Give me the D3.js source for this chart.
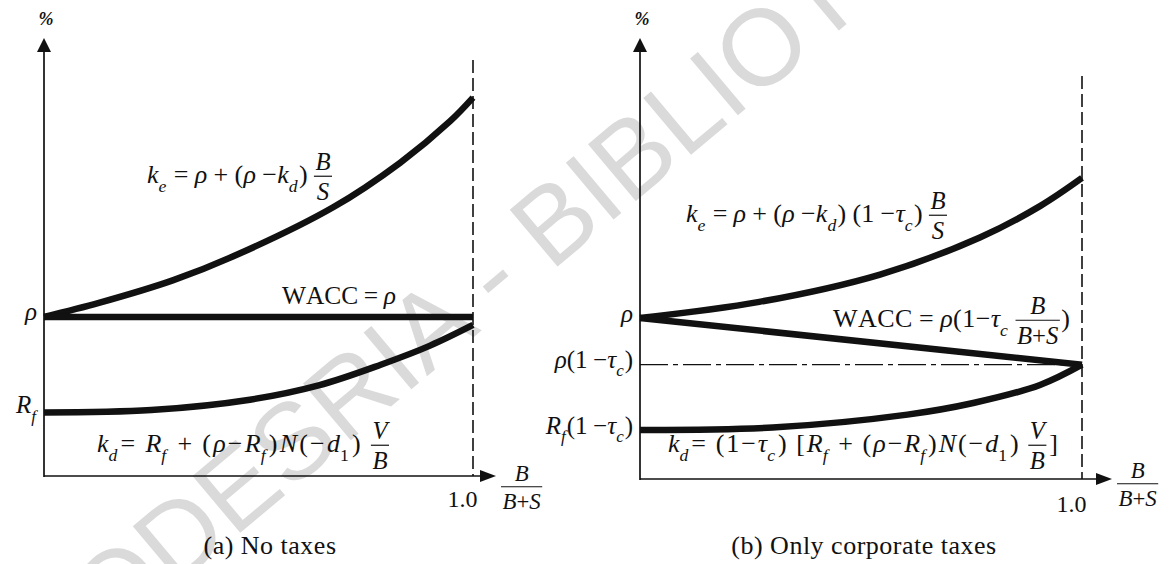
<!DOCTYPE html>
<html>
<head>
<meta charset="utf-8">
<script src="https://cdn.jsdelivr.net/npm/d3@7"></script>
<style>
  html, body { margin: 0; padding: 0; background: #fff; }
  svg { display: block; }
  text { font-family: "Liberation Serif", "Times New Roman", serif; fill: #111; white-space: pre; }
  .wm { font-family: "Liberation Sans", Arial, sans-serif; fill: #dadada; }
</style>
</head>
<body>
<svg id="chart" width="1174" height="564"></svg>
<script>
// ---- Costs of capital (%) against leverage B/(B+S) ----
const rho = 10;                 // unlevered cost of equity
const rf = 4.0;                 // risk-free rate

// (a) No taxes
const keA_x   = [0, 0.13, 0.30, 0.44, 0.674, 0.83, 0.946, 1];
const keA_y   = [10, 10.9, 12.3, 13.8, 16.9, 19.7, 22.3, 23.8];
const waccA_x = [0, 1];
const waccA_y = [10, 10];
const kdA_x   = [0, 0.25, 0.48, 0.64, 0.785, 0.9, 1];
const kdA_y   = [4.0, 4.15, 4.8, 5.7, 7.0, 8.2, 9.5];

// (b) Only corporate taxes
const rhoAfterTax = 7.1;        // rho(1 - tau_c)
const rfAfterTax  = 3.05;       // Rf(1 - tau_c)
const keB_x   = [0, 0.27, 0.543, 0.769, 0.905, 1];
const keB_y   = [10, 11.0, 12.7, 15.0, 16.95, 18.7];
const waccB_x = [0, 1];
const waccB_y = [10, 7.1];
const kdB_x   = [0, 0.3, 0.605, 0.754, 0.905, 1];
const kdB_y   = [3.05, 3.2, 4.0, 4.72, 5.84, 7.1];

const xTicks = [1];
const xTickLabels = ["1.0"];

const svg = d3.select("#chart");
const FS = 24;
const INK = "#111";

// ---- background watermark ----
svg.append("text")
  .attr("class", "wm")
  .attr("font-size", 108)
  .attr("text-anchor", "middle")
  .attr("transform", "translate(606,226) rotate(-40)")
  .text("CODESRIA - BIBLIOTHEQUE");

// ---- small math typesetter: italic symbols, _x subscripts, {a/b} fractions, ^..^ upright ----
function parseMath(s) {
  const out = [];
  let upright = false;
  for (let i = 0; i < s.length; i++) {
    const c = s[i];
    if (c === "^") { upright = !upright; continue; }
    if (c === " ") { out.push({ space: true }); continue; }
    if (c === "_") {
      const n = s[++i];
      out.push({ t: n, sub: true, it: /[A-Za-zρτ]/.test(n) });
      continue;
    }
    if (c === "{") {
      const j = s.indexOf("}", i);
      const [n, d] = s.slice(i + 1, j).split("/");
      out.push({ frac: [n, d] });
      i = j;
      continue;
    }
    const it = !upright && /[A-Za-zρτ]/.test(c);
    out.push({ t: c, it });
  }
  return out;
}

// lays out the runs; `gap` is extra room added after every glyph group
function drawMath(g, x, y, s, fs, gap) {
  gap = gap || 0;
  let cx = x;
  const runs = parseMath(s);
  runs.forEach((r, k) => {
    const nextSub = runs[k + 1] && runs[k + 1].sub;
    if (r.space) {
      cx += fs * 0.22 + gap;
    } else if (r.frac) {
      const f2 = fs * 0.95;
      const num = g.append("g"), den = g.append("g");
      const nw = drawMath(num, 0, 0, r.frac[0], f2, 0);
      const dw = drawMath(den, 0, 0, r.frac[1], f2, 0);
      const w = Math.max(nw, dw) + 3;
      num.attr("transform", `translate(${cx + (w - nw) / 2},${y - fs * 0.5})`);
      den.attr("transform", `translate(${cx + (w - dw) / 2},${y + fs * 0.66})`);
      g.append("line")
        .attr("x1", cx).attr("x2", cx + w)
        .attr("y1", y - fs * 0.26).attr("y2", y - fs * 0.26)
        .attr("stroke", INK).attr("stroke-width", 1.2);
      cx += w + 1 + gap;
    } else {
      const t = g.append("text")
        .attr("x", cx)
        .attr("y", r.sub ? y + fs * 0.33 : y)
        .attr("font-size", r.sub ? fs * 0.68 : fs)
        .attr("font-style", r.it ? "italic" : "normal")
        .text(r.t);
      cx += t.node().getComputedTextLength() + (r.sub ? 1 : 0) + (nextSub ? 0 : gap);
    }
  });
  return cx - x - (runs.length && !runs[runs.length - 1].sub ? gap : 0);
}

// place a formula; with a width the type grows a little and the rest is spread evenly
function mathLabel(x, y, s, fs, anchor, width) {
  const g = svg.append("g");
  let w = drawMath(g, 0, 0, s, fs, 0);
  if (width) {
    const size = Math.min(26, fs * width / w);
    g.selectAll("*").remove();
    w = drawMath(g, 0, 0, s, size, 0);
    const runs = parseMath(s);
    const slots = runs.filter((r, k) => !(runs[k + 1] && runs[k + 1].sub)).length - 1;
    const gap = slots > 0 ? (width - w) / slots : 0;
    g.selectAll("*").remove();
    w = drawMath(g, 0, 0, s, size, gap);
  }
  const dx = anchor === "end" ? x - w : anchor === "middle" ? x - w / 2 : x;
  g.attr("transform", `translate(${dx},${y})`);
  return g;
}

// ---- one panel ----
function drawPanel(cfg) {
  const x = d3.scaleLinear().domain([0, 1]).range([cfg.left, cfg.right]);
  const y = d3.scaleLinear().domain([0, rho]).range([cfg.base, cfg.rhoY]);
  const g = svg.append("g");

  // x axis: "1.0" from the axis generator, line and arrow drawn separately
  const ax = d3.axisBottom(x)
    .tickValues(xTicks)
    .tickFormat((d, i) => xTickLabels[i])
    .tickSize(0)
    .tickPadding(0);
  const axG = g.append("g").attr("transform", `translate(0,${cfg.base})`).call(ax);
  axG.select(".domain").remove();
  axG.attr("font-family", null).attr("font-size", null);
  axG.selectAll(".tick text")
    .attr("font-size", FS)
    .attr("fill", INK)
    .attr("text-anchor", "end")
    .attr("dx", 4)
    .attr("dy", null)
    .attr("y", cfg.tickY);

  g.append("line")
    .attr("x1", cfg.left).attr("x2", cfg.arrowX - 14)
    .attr("y1", cfg.base).attr("y2", cfg.base)
    .attr("stroke", INK).attr("stroke-width", 1.7);
  g.append("path")
    .attr("d", `M${cfg.arrowX},${cfg.base} L${cfg.arrowX - 16},${cfg.base - 6} L${cfg.arrowX - 16},${cfg.base + 6} Z`)
    .attr("fill", INK);

  // y axis with arrow
  g.append("line")
    .attr("x1", cfg.left).attr("x2", cfg.left)
    .attr("y1", cfg.base + 1).attr("y2", cfg.top + 12)
    .attr("stroke", INK).attr("stroke-width", 1.7);
  g.append("path")
    .attr("d", `M${cfg.left},${cfg.top} L${cfg.left - 7},${cfg.top + 14} L${cfg.left + 7},${cfg.top + 14} Z`)
    .attr("fill", INK);
  g.append("text")
    .attr("x", cfg.left + 2).attr("y", cfg.top - 13)
    .attr("text-anchor", "middle")
    .attr("font-size", 18).attr("font-weight", "bold").attr("font-style", "italic")
    .text("%");

  // dashed limit at B/(B+S) = 1
  g.append("line")
    .attr("x1", x(1)).attr("x2", x(1))
    .attr("y1", cfg.dashTop).attr("y2", cfg.base)
    .attr("stroke", INK).attr("stroke-width", 1.6)
    .attr("stroke-dasharray", "13,5");

  // optional dash-dot reference level
  if (cfg.refLevel !== undefined) {
    g.append("line")
      .attr("x1", x(0)).attr("x2", x(1) - 4)
      .attr("y1", y(cfg.refLevel)).attr("y2", y(cfg.refLevel))
      .attr("stroke", INK).attr("stroke-width", 1.2)
      .attr("stroke-dasharray", "28,5,5,5");
  }

  // cost curves
  const line = d3.line()
    .x(d => x(d[0]))
    .y(d => y(d[1]))
    .curve(d3.curveCatmullRom.alpha(0.5));
  cfg.series.forEach(s => {
    g.append("path")
      .datum(d3.zip(s.x, s.y))
      .attr("d", line)
      .attr("fill", "none")
      .attr("stroke", INK)
      .attr("stroke-width", 6.5)
      .attr("stroke-linecap", "butt");
  });

  // level labels beside the y axis
  cfg.levels.forEach(l => mathLabel(cfg.left - 7, y(l.v) + l.dy, l.s, 25, "end"));

  // x-axis variable
  mathLabel(cfg.arrowX + 5, cfg.base + cfg.fracDy, "{B/B+S}", FS, "start");

  return { x, y };
}

drawPanel({
  left: 44, right: 473, base: 476, rhoY: 317, top: 38, dashTop: 60, arrowX: 496,
  tickY: 31, fracDy: 17,
  series: [
    { x: keA_x, y: keA_y },
    { x: waccA_x, y: waccA_y },
    { x: kdA_x, y: kdA_y }
  ],
  levels: [
    { v: rho, s: "ρ", dy: 3 },
    { v: rf, s: "R_f", dy: 1 }
  ]
});

drawPanel({
  left: 640, right: 1082, base: 479, rhoY: 318, top: 38, dashTop: 76, arrowX: 1112,
  tickY: 33, fracDy: 11,
  refLevel: rhoAfterTax,
  series: [
    { x: keB_x, y: keB_y },
    { x: waccB_x, y: waccB_y },
    { x: kdB_x, y: kdB_y }
  ],
  levels: [
    { v: rho, s: "ρ", dy: 4 },
    { v: rhoAfterTax, s: "ρ(1 −τ_c)", dy: 3 },
    { v: rfAfterTax, s: "R_f(1 −τ_c)", dy: 4 }
  ]
});

// curve formulas
mathLabel(147, 183, "k_e = ρ + (ρ −k_d) {B/S}", FS, "start", 186);
mathLabel(282, 304, "^WACC^ = ρ", FS, "start", 114);
mathLabel(97, 452, "k_d= R_f + (ρ−R_f)N(−d_1) {V/B}", FS, "start", 293);

mathLabel(686, 222, "k_e = ρ + (ρ −k_d) (1 −τ_c) {B/S}", FS, "start", 262);
mathLabel(833, 327, "^WACC^ = ρ(1−τ_c {B/B+S})", FS, "start", 237);
mathLabel(668, 452, "k_d= (1−τ_c) [R_f + (ρ−R_f)N(−d_1) {V/B}]", FS, "start", 390);

// panel captions
svg.append("text")
  .attr("x", 270).attr("y", 554)
  .attr("text-anchor", "middle")
  .attr("font-size", 26).attr("letter-spacing", 0.5)
  .text("(a) No taxes");
svg.append("text")
  .attr("x", 864).attr("y", 554)
  .attr("text-anchor", "middle")
  .attr("font-size", 26).attr("letter-spacing", 0.5)
  .text("(b) Only corporate taxes");
</script>
</body>
</html>
